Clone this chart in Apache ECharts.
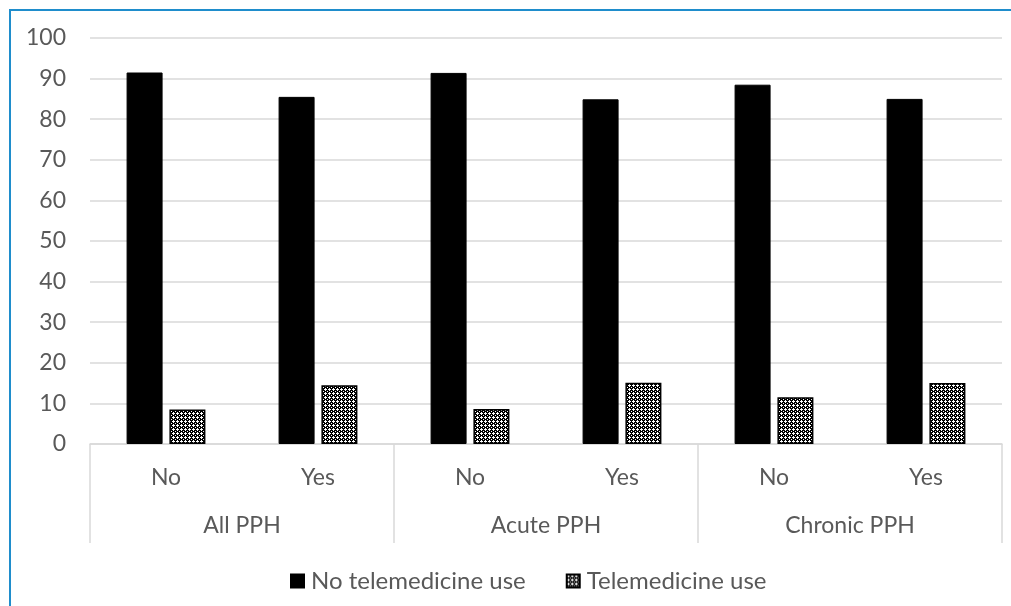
<!DOCTYPE html>
<html>
<head>
<meta charset="utf-8">
<script src="https://cdn.jsdelivr.net/npm/echarts@6/dist/echarts.min.js"></script>
<style>
html,body{margin:0;padding:0;background:#fff;}
#frame{position:absolute;left:9px;top:9px;width:1100px;height:700px;border-top:2px solid #1f8dcc;border-left:2px solid #1f8dcc;box-sizing:border-box;}
#chart{position:absolute;left:0;top:0;width:1011px;height:606px;}
</style>
</head>
<body>
<div id="frame"></div>
<div id="chart"></div>
<script>
const groups = ["All PPH", "Acute PPH", "Chronic PPH"];
const subCategories = ["No", "Yes", "No", "Yes", "No", "Yes"];
const noTelemedicine = [91.5, 85.5, 91.4, 84.9, 88.5, 85.0];
const telemedicine = [8.5, 14.5, 8.6, 15.1, 11.5, 15.0];
const yTicks = [0, 10, 20, 30, 40, 50, 60, 70, 80, 90, 100];
const seriesNames = ["No telemedicine use", "Telemedicine use"];

function makePattern() {
  const c = document.createElement('canvas');
  c.width = 4; c.height = 4;
  const ctx = c.getContext('2d');
  ctx.fillStyle = '#000';
  ctx.fillRect(0, 0, 4, 4);
  ctx.fillStyle = '#fff';
  ctx.fillRect(1, 0, 1, 3);
  ctx.fillRect(0, 1, 3, 1);
  ctx.fillRect(3, 3, 1, 1);
  return c;
}

const font = 'Lato, "Liberation Sans", sans-serif';
const txt = '#595959';
const grid = '#d9d9d9';
const fs = 23;

const chart = echarts.init(document.getElementById('chart'), null, {renderer: 'canvas'});
chart.setOption({
  animation: false,
  textStyle: {fontFamily: font},
  grid: {left: 90, right: 9, top: 38, bottom: 162, containLabel: false},
  legend: {
    bottom: 8,
    left: 285,
    itemWidth: 13,
    itemHeight: 13,
    itemGap: 40,
    icon: 'rect',
    textStyle: {fontFamily: font, fontSize: 24, color: txt, padding: [0, 0, 0, 2]},
    data: seriesNames
  },
  xAxis: [
    {
      type: 'category',
      data: subCategories,
      position: 'bottom',
      axisLine: {show: true, lineStyle: {color: grid, width: 1.5}},
      axisTick: {show: false},
      axisLabel: {fontFamily: font, fontSize: fs, color: txt, margin: 22}
    },
    {
      type: 'category',
      data: groups,
      position: 'bottom',
      axisLine: {show: false},
      axisTick: {show: true, length: 99, inside: false, alignWithLabel: false, lineStyle: {color: grid, width: 1.5}},
      axisLabel: {fontFamily: font, fontSize: fs, color: txt, margin: 70}
    }
  ],
  yAxis: {
    type: 'value',
    min: yTicks[0],
    max: yTicks[yTicks.length - 1],
    interval: 10,
    axisLine: {show: false},
    axisTick: {show: false},
    splitLine: {lineStyle: {color: grid, width: 1.5}},
    axisLabel: {fontFamily: font, fontSize: fs, color: txt, margin: 24}
  },
  series: [
    {
      name: seriesNames[0],
      type: 'bar',
      xAxisIndex: 0,
      data: noTelemedicine,
      barWidth: 36,
      barGap: '19%',
      itemStyle: {color: '#000', borderColor: '#000', borderWidth: 1}
    },
    {
      name: seriesNames[1],
      type: 'bar',
      xAxisIndex: 0,
      data: telemedicine,
      barWidth: 36,
      itemStyle: {color: {image: makePattern(), repeat: 'repeat'}, borderColor: '#000', borderWidth: 1.5}
    }
  ]
});
</script>
</body>
</html>
